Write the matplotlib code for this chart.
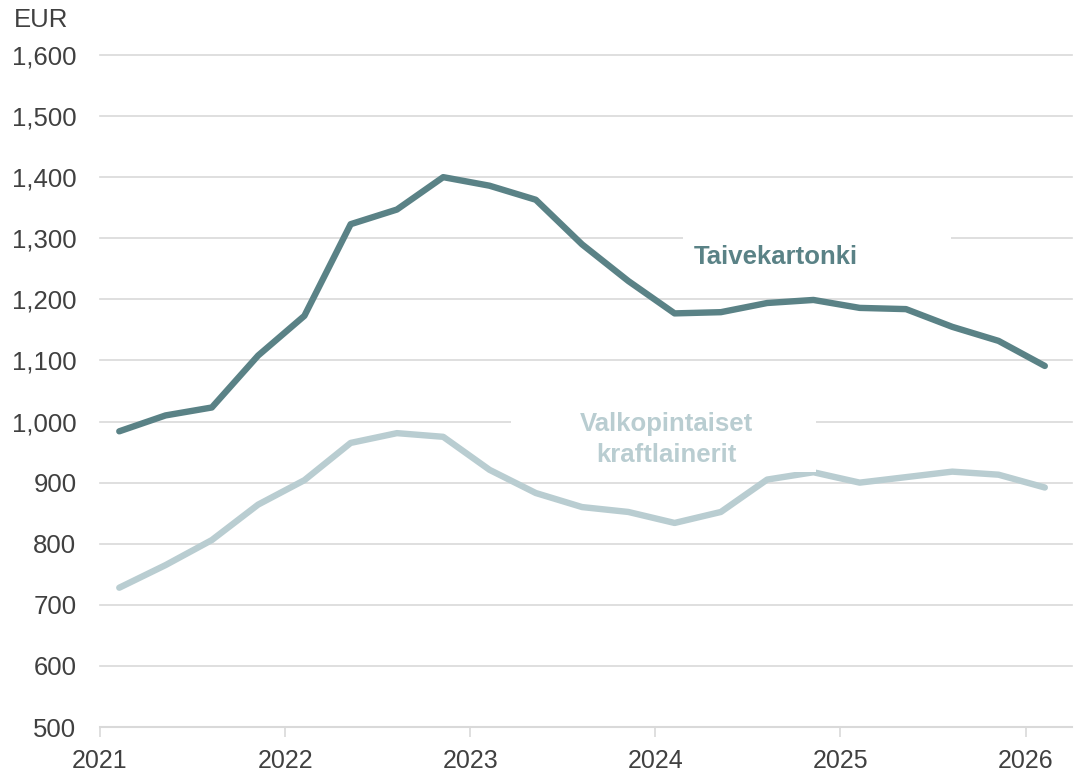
import matplotlib.pyplot as plt
from matplotlib.patches import Rectangle
from matplotlib.ticker import FuncFormatter

plt.rcParams['font.family'] = ['Liberation Sans', 'DejaVu Sans']

# quarterly points, 2021 Q1 .. 2026 Q1
quarters = [2021 + (k * 3 + 1.25) / 12 for k in range(21)]
taivekartonki = [984, 1010, 1023, 1108, 1173, 1323, 1347, 1400, 1386, 1363, 1290,
                 1230, 1177, 1179, 1194, 1199, 1186, 1184, 1155, 1132, 1091]
valkopintaiset = [728, 765, 806, 864, 904, 965, 981, 975, 921, 883, 860,
                  852, 834, 852, 905, 917, 900, 909, 918, 913, 892]
years = [2021, 2022, 2023, 2024, 2025, 2026]
yticks = list(range(500, 1700, 100))

dark = '#5a8286'
light = '#b9cdd1'
grid = '#d9d9d9'
txt = '#404040'

fig = plt.figure(figsize=(10.81, 7.74), dpi=100)
ax = fig.add_axes([0.0925, 0.0607, 0.899, 0.8683])

ax.plot(quarters, taivekartonki, color=dark, lw=4.6, zorder=3, solid_capstyle='round')
ax.plot(quarters, valkopintaiset, color=light, lw=4.6, zorder=3, solid_capstyle='round')

# white label backgrounds
ax.add_patch(Rectangle((2024.15, 1265), 1.45, 100, facecolor='white', edgecolor='none', zorder=4))
ax.add_patch(Rectangle((2023.22, 918), 1.65, 130, facecolor='white', edgecolor='none', zorder=4))

ax.text(2024.65, 1269, 'Taivekartonki', color=dark, fontsize=18.5, fontweight='bold',
        ha='center', va='center', zorder=5)
ax.text(2024.06, 971, 'Valkopintaiset\nkraftlainerit', color=light, fontsize=18.5,
        fontweight='bold', ha='center', va='center', linespacing=1.35, zorder=5)

ax.set_xlim(2021, 2026.25)
ax.set_ylim(500, 1600)
ax.set_yticks(yticks)
ax.set_xticks(years)
ax.yaxis.set_major_formatter(FuncFormatter(lambda v, p: f'{int(v):,}'))
ax.grid(axis='y', color=grid, lw=1.2, zorder=0)
ax.set_axisbelow(True)
for s in ['top', 'right', 'left']:
    ax.spines[s].set_visible(False)
ax.spines['bottom'].set_color(grid)
ax.spines['bottom'].set_linewidth(1.5)
ax.tick_params(axis='y', length=0, pad=17, labelsize=18.5, labelcolor=txt)
ax.tick_params(axis='x', length=7, width=1.2, color=grid, pad=9, labelsize=18, labelcolor=txt)
for gl in ax.get_ygridlines():
    gl.set_clip_on(False)

fig.text(0.013, 0.974, 'EUR', fontsize=18.5, color=txt, ha='left', va='center')

fig.savefig('out.png', dpi=100, facecolor='white')
